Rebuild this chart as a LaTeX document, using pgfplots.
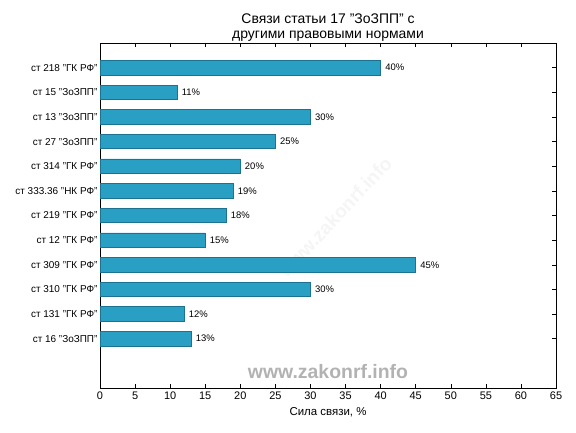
\documentclass[border=0pt]{standalone}
\usepackage{pgfplots}
\pgfplotsset{compat=1.18}
\usepackage{fontspec}
\setmainfont{Liberation Sans}
\definecolor{barfill}{RGB}{42,159,196}
\definecolor{baredge}{RGB}{28,115,145}
\definecolor{wm}{RGB}{178,178,178}

\begin{document}
\begin{tikzpicture}[x=1bp,y=1bp]
\path (0,0) rectangle (576,432);
% faint diagonal watermark behind everything
\node[rotate=47,text=black!4,font=\bfseries\fontsize{19}{19}\selectfont] at (335,215) {www.zakonrf.info};
\begin{axis}[
  at={(100bp,44bp)}, anchor=south west,
  scale only axis, width=456bp, height=345bp,
  xbar, bar width=14.5bp,
  xmin=0, xmax=65, ymin=-2, ymax=12,
  xtick={0,5,...,65},
  ytick={0,...,11},
  yticklabels={{ст 16 "ЗоЗПП"},{ст 131 "ГК РФ"},{ст 310 "ГК РФ"},{ст 309 "ГК РФ"},{ст 12 "ГК РФ"},{ст 219 "ГК РФ"},{ст 333.36 "НК РФ"},{ст 314 "ГК РФ"},{ст 27 "ЗоЗПП"},{ст 13 "ЗоЗПП"},{ст 15 "ЗоЗПП"},{ст 218 "ГК РФ"}},
  tick align=inside, xtick pos=both, ytick pos=both,
  major tick length=4bp,
  tick style={black, line width=0.5pt},
  axis line style={line width=0.9pt},
  /pgf/number format/assume math mode=true,
  xticklabel style={font=\fontsize{11}{11}\selectfont},
  yticklabel style={font=\fontsize{10}{10}\selectfont, xshift=1bp},
  xlabel={Сила связи, \%},
  xlabel style={font=\fontsize{11.5}{12}\selectfont, yshift=-1bp},
  title={Связи статьи 17 "ЗоЗПП" с\\другими правовыми нормами},
  title style={font=\fontsize{14}{15}\selectfont, align=center, yshift=-8bp},
  nodes near coords={\pgfmathprintnumber{\pgfplotspointmeta}\%},
  nodes near coords style={font=\fontsize{9.5}{9.5}\selectfont, black, xshift=1bp},
]
\addplot[fill=barfill, draw=baredge, line width=0.7pt] coordinates {
  (13,0) (12,1) (30,2) (45,3) (15,4) (18,5)
  (19,6) (20,7) (25,8) (30,9) (11,10) (40,11)};
\node[text=wm, font=\bfseries\fontsize{19.5}{19.5}\selectfont] at (axis cs:32.5,-1.35) {www.zakonrf.info};
\end{axis}
\end{tikzpicture}
\end{document}
